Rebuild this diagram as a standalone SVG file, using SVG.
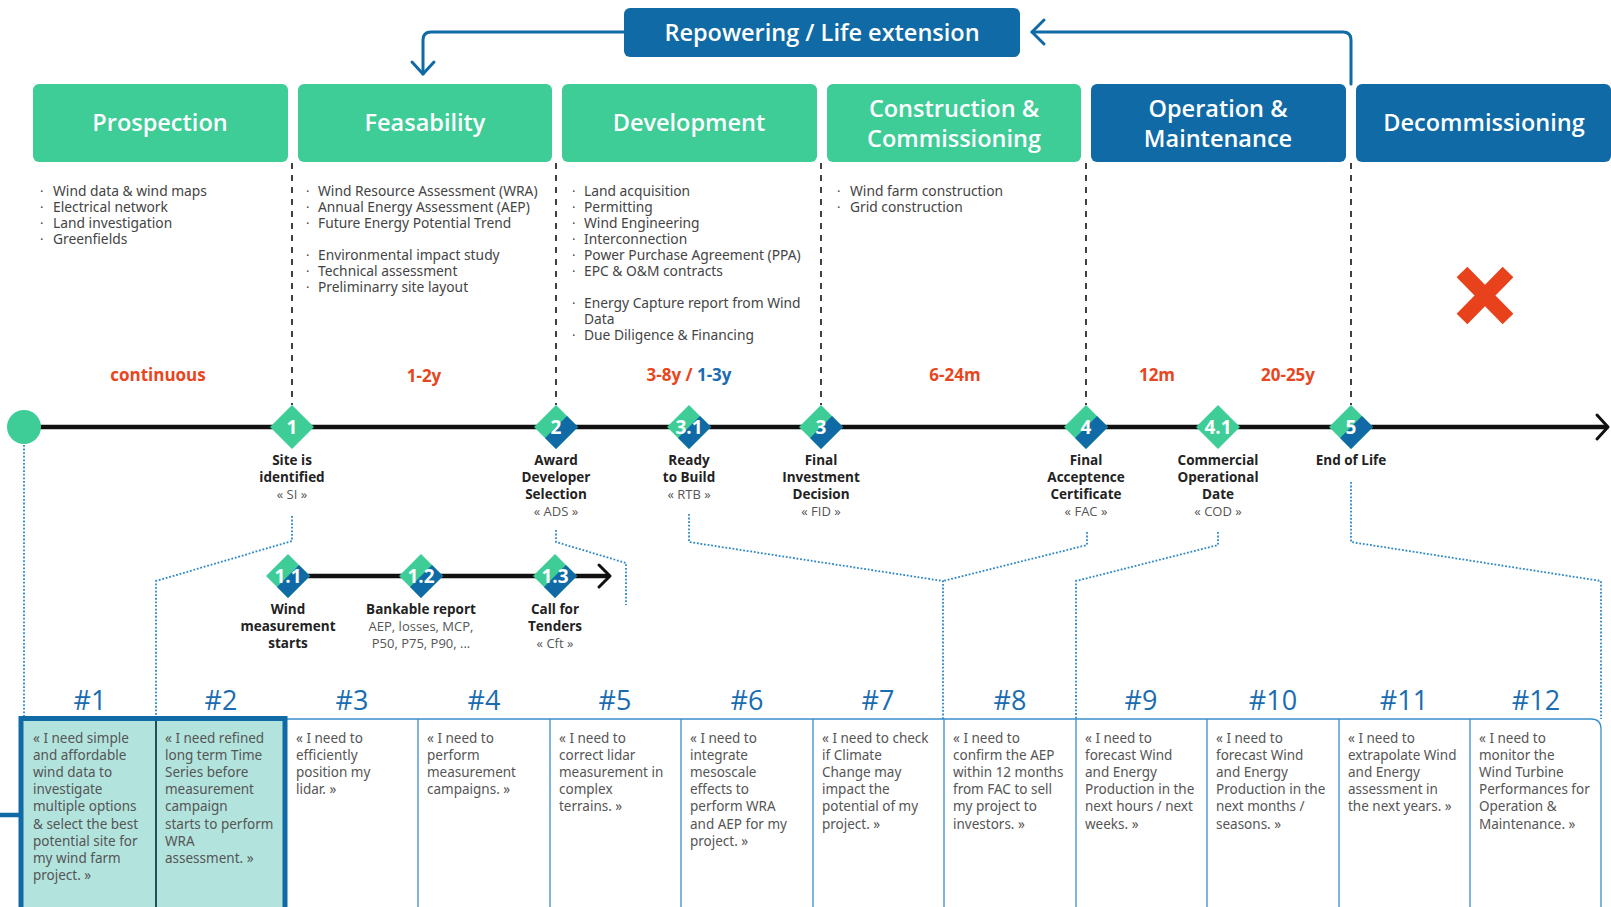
<svg xmlns="http://www.w3.org/2000/svg" xmlns:xlink="http://www.w3.org/1999/xlink" width="1611" height="907" viewBox="0 0 1611 907">
<defs>
<style>
.ph{fill:#3ECC97}
.phb{fill:#0F6AA6}
.pt{font-family:"Open Sans","Noto Sans",sans-serif;font-weight:600;font-size:23.5px;fill:#fff;text-anchor:middle}
.li{font-family:"Noto Sans","Open Sans",sans-serif;font-size:13.8px;fill:#444}
.bu{font-family:"Noto Sans",sans-serif;font-size:13px;fill:#444}
.du{font-family:"Open Sans","Noto Sans",sans-serif;font-weight:700;font-size:17px;fill:#E8461E;text-anchor:middle}
.dn{font-family:"Open Sans","Noto Sans",sans-serif;font-weight:700;font-size:19px;fill:#fff;text-anchor:middle}
.lb{font-family:"Open Sans","Noto Sans",sans-serif;font-weight:700;font-size:13.5px;fill:#222;text-anchor:middle}
.lr{font-family:"Open Sans","Noto Sans",sans-serif;font-size:13px;fill:#555;text-anchor:middle}
.hd{font-family:"Open Sans","Noto Sans",sans-serif;font-size:27px;fill:#1A6CB0;text-anchor:middle}
.ct{font-family:"Noto Sans","Open Sans",sans-serif;font-size:13.5px;fill:#555}
.dash{stroke:#111;stroke-width:1.6;stroke-dasharray:6 6;fill:none}
.dot{stroke:#2B87C8;stroke-width:1.8;stroke-dasharray:1.8 1.8;fill:none}
.blu{stroke:#0F6AA6;stroke-width:3;fill:none;stroke-linecap:round;stroke-linejoin:round}
.tl{stroke:#111;stroke-width:4.5;fill:none}
.chev{stroke:#111;stroke-width:3;fill:none;stroke-linecap:round;stroke-linejoin:round}
.cell{stroke:#3A8FCB;stroke-width:1.3;fill:none}
</style>
<g id="dsplit"><polygon points="0,-22 22,0 0,22 -22,0" fill="#3ECC97"/><polygon points="11,-11 22,0 0,22 -11,11" fill="#0F6AA6"/></g>
<g id="dgreen"><polygon points="0,-22 22,0 0,22 -22,0" fill="#3ECC97"/></g>
</defs>
<rect width="1611" height="907" fill="#fff"/>

<!-- connectors -->
<g id="connectors">
<path class="blu" d="M624,32 H431 Q423,32 423,40 V74"/>
<polyline class="blu" points="412,62 423,74 434,62"/>
<path class="blu" d="M1351,84 V40 Q1351,32 1343,32 H1032"/>
<polyline class="blu" points="1044,20 1032,32 1044,44"/>
<line class="dash" x1="292" y1="163" x2="292" y2="405"/>
<line class="dash" x1="556" y1="163" x2="556" y2="405"/>
<line class="dash" x1="821" y1="163" x2="821" y2="405"/>
<line class="dash" x1="1086" y1="163" x2="1086" y2="405"/>
<line class="dash" x1="1351" y1="163" x2="1351" y2="405"/>
<line class="tl" x1="24" y1="427" x2="1607" y2="427"/>
<polyline class="chev" points="1597,415 1608,427 1597,439"/>
<line class="tl" x1="288" y1="576" x2="609" y2="576"/>
<polyline class="chev" points="599,565 610,576 599,587"/>
<path class="dot" d="M24,445 V719"/>
<path class="dot" d="M292,516 V541 L156,581 V719"/>
<path class="dot" d="M556,530 V542 L626,563 V605"/>
<path class="dot" d="M689,514 V542 L943,581 V719"/>
<path class="dot" d="M1087,532 V545 L943,581"/>
<path class="dot" d="M1218,532 V545 L1076,581 V719"/>
<path class="dot" d="M1351,482 V542 L1601,581 V719"/>
</g>

<!-- repowering -->
<g id="repowering">
<rect x="624" y="8" width="396" height="49" rx="6" fill="#0F6AA6"/>
<text class="pt" x="822" y="40.5" font-size="23px">Repowering / Life extension</text>
</g>

<!-- phases -->
<g id="phase-prospection"><rect class="ph" x="33" y="84" width="255" height="78" rx="6"/><text class="pt" x="160" y="131">Prospection</text>
<text class="bu" x="40" y="196">·</text><text class="li" x="53" y="196">Wind data &amp; wind maps</text>
<text class="bu" x="40" y="212">·</text><text class="li" x="53" y="212">Electrical network</text>
<text class="bu" x="40" y="228">·</text><text class="li" x="53" y="228">Land investigation</text>
<text class="bu" x="40" y="244">·</text><text class="li" x="53" y="244">Greenfields</text>
</g>
<g id="phase-feasability"><rect class="ph" x="298" y="84" width="254" height="78" rx="6"/><text class="pt" x="425" y="131">Feasability</text>
<text class="bu" x="306" y="196">·</text><text class="li" x="318" y="196">Wind Resource Assessment (WRA)</text>
<text class="bu" x="306" y="212">·</text><text class="li" x="318" y="212">Annual Energy Assessment (AEP)</text>
<text class="bu" x="306" y="228">·</text><text class="li" x="318" y="228">Future Energy Potential Trend</text>
<text class="bu" x="306" y="260">·</text><text class="li" x="318" y="260">Environmental impact study</text>
<text class="bu" x="306" y="276">·</text><text class="li" x="318" y="276">Technical assessment</text>
<text class="bu" x="306" y="292">·</text><text class="li" x="318" y="292">Preliminarry site layout</text>
</g>
<g id="phase-development"><rect class="ph" x="562" y="84" width="255" height="78" rx="6"/><text class="pt" x="689" y="131">Development</text>
<text class="bu" x="572" y="196">·</text><text class="li" x="584" y="196">Land acquisition</text>
<text class="bu" x="572" y="212">·</text><text class="li" x="584" y="212">Permitting</text>
<text class="bu" x="572" y="228">·</text><text class="li" x="584" y="228">Wind Engineering</text>
<text class="bu" x="572" y="244">·</text><text class="li" x="584" y="244">Interconnection</text>
<text class="bu" x="572" y="260">·</text><text class="li" x="584" y="260">Power Purchase Agreement (PPA)</text>
<text class="bu" x="572" y="276">·</text><text class="li" x="584" y="276">EPC &amp; O&amp;M contracts</text>
<text class="bu" x="572" y="308">·</text><text class="li" x="584" y="308">Energy Capture report from Wind</text>
<text class="li" x="584" y="324">Data</text>
<text class="bu" x="572" y="340">·</text><text class="li" x="584" y="340">Due Diligence &amp; Financing</text>
</g>
<g id="phase-construction"><rect class="ph" x="827" y="84" width="254" height="78" rx="6"/><text class="pt" x="954" y="117">Construction &amp;</text><text class="pt" x="954" y="147">Commissioning</text>
<text class="bu" x="837" y="196">·</text><text class="li" x="850" y="196">Wind farm construction</text>
<text class="bu" x="837" y="212">·</text><text class="li" x="850" y="212">Grid construction</text>
</g>
<g id="phase-operation"><rect class="phb" x="1091" y="84" width="255" height="78" rx="6"/><text class="pt" x="1218" y="117">Operation &amp;</text><text class="pt" x="1218" y="147">Maintenance</text></g>
<g id="phase-decommissioning"><rect class="phb" x="1356" y="84" width="255" height="78" rx="6"/><text class="pt" x="1484" y="131">Decommissioning</text>
<path d="M1462,272 L1508,319 M1508,272 L1462,319" stroke="#E8421C" stroke-width="15" stroke-linecap="butt"/>
</g>

<!-- durations -->
<g id="durations">
<text class="du" x="158" y="381">continuous</text>
<text class="du" x="424" y="382">1-2y</text>
<text class="du" x="689" y="381">3-8y / <tspan fill="#1A6CB0">1-3y</tspan></text>
<text class="du" x="955" y="381">6-24m</text>
<text class="du" x="1157" y="381">12m</text>
<text class="du" x="1288" y="381">20-25y</text>
</g>

<!-- milestones -->
<g id="start"><circle cx="24" cy="427" r="17" fill="#3ECC97"/></g>
<g id="m1"><use href="#dgreen" x="292" y="427"/><text class="dn" x="292" y="434">1</text>
<text class="lb" x="292" y="465">Site is</text><text class="lb" x="292" y="482">identified</text><text class="lr" x="292" y="499">« SI »</text></g>
<g id="m2"><use href="#dsplit" x="556" y="427"/><text class="dn" x="556" y="434">2</text>
<text class="lb" x="556" y="465">Award</text><text class="lb" x="556" y="482">Developer</text><text class="lb" x="556" y="499">Selection</text><text class="lr" x="556" y="516">« ADS »</text></g>
<g id="m31"><use href="#dsplit" x="689" y="427"/><text class="dn" x="689" y="434">3.1</text>
<text class="lb" x="689" y="465">Ready</text><text class="lb" x="689" y="482">to Build</text><text class="lr" x="689" y="499">« RTB »</text></g>
<g id="m3"><use href="#dsplit" x="821" y="427"/><text class="dn" x="821" y="434">3</text>
<text class="lb" x="821" y="465">Final</text><text class="lb" x="821" y="482">Investment</text><text class="lb" x="821" y="499">Decision</text><text class="lr" x="821" y="516">« FID »</text></g>
<g id="m4"><use href="#dsplit" x="1086" y="427"/><text class="dn" x="1086" y="434">4</text>
<text class="lb" x="1086" y="465">Final</text><text class="lb" x="1086" y="482">Acceptence</text><text class="lb" x="1086" y="499">Certificate</text><text class="lr" x="1086" y="516">« FAC »</text></g>
<g id="m41"><use href="#dgreen" x="1218" y="427"/><text class="dn" x="1218" y="434">4.1</text>
<text class="lb" x="1218" y="465">Commercial</text><text class="lb" x="1218" y="482">Operational</text><text class="lb" x="1218" y="499">Date</text><text class="lr" x="1218" y="516">« COD »</text></g>
<g id="m5"><use href="#dsplit" x="1351" y="427"/><text class="dn" x="1351" y="434">5</text>
<text class="lb" x="1351" y="465">End of Life</text></g>
<g id="m11"><use href="#dsplit" x="288" y="576"/><text class="dn" x="288" y="583">1.1</text>
<text class="lb" x="288" y="614">Wind</text><text class="lb" x="288" y="631">measurement</text><text class="lb" x="288" y="648">starts</text></g>
<g id="m12"><use href="#dsplit" x="421" y="576"/><text class="dn" x="421" y="583">1.2</text>
<text class="lb" x="421" y="614">Bankable report</text><text class="lr" x="421" y="631">AEP, losses, MCP,</text><text class="lr" x="421" y="648">P50, P75, P90, ...</text></g>
<g id="m13"><use href="#dsplit" x="555" y="576"/><text class="dn" x="555" y="583">1.3</text>
<text class="lb" x="555" y="614">Call for</text><text class="lb" x="555" y="631">Tenders</text><text class="lr" x="555" y="648">« Cft »</text></g>

<!-- table -->
<g id="table">
<path class="cell" d="M24,719 H1591 Q1601,719 1601,729 V907"/>
<path class="cell" d="M418,719V907M550,719V907M681,719V907M813,719V907M944,719V907M1076,719V907M1207,719V907M1339,719V907M1470,719V907"/>
<rect x="21" y="718.5" width="264" height="200" fill="#B2E3DD" stroke="#0F6AA6" stroke-width="5"/>
<line x1="156" y1="721" x2="156" y2="907" stroke="#1D4F5E" stroke-width="2"/>
<line x1="0" y1="815" x2="19" y2="815" stroke="#0F6AA6" stroke-width="4.5"/>
<text class="hd" x="90" y="710">#1</text><text class="hd" x="221" y="710">#2</text><text class="hd" x="352" y="710">#3</text><text class="hd" x="484" y="710">#4</text><text class="hd" x="615" y="710">#5</text><text class="hd" x="747" y="710">#6</text><text class="hd" x="878" y="710">#7</text><text class="hd" x="1010" y="710">#8</text><text class="hd" x="1141" y="710">#9</text><text class="hd" x="1273" y="710">#10</text><text class="hd" x="1404" y="710">#11</text><text class="hd" x="1536" y="710">#12</text>
</g>
<g id="need1"><text class="ct" x="33" y="743"><tspan x="33">« I need simple</tspan><tspan x="33" dy="17.1">and affordable</tspan><tspan x="33" dy="17.1">wind data to</tspan><tspan x="33" dy="17.1">investigate</tspan><tspan x="33" dy="17.1">multiple options</tspan><tspan x="33" dy="17.1">&amp; select the best</tspan><tspan x="33" dy="17.1">potential site for</tspan><tspan x="33" dy="17.1">my wind farm</tspan><tspan x="33" dy="17.1">project. »</tspan></text></g>
<g id="need2"><text class="ct" x="165" y="743"><tspan x="165">« I need refined</tspan><tspan x="165" dy="17.1">long term Time</tspan><tspan x="165" dy="17.1">Series before</tspan><tspan x="165" dy="17.1">measurement</tspan><tspan x="165" dy="17.1">campaign</tspan><tspan x="165" dy="17.1">starts to perform</tspan><tspan x="165" dy="17.1">WRA</tspan><tspan x="165" dy="17.1">assessment. »</tspan></text></g>
<g id="need3"><text class="ct" x="296" y="743"><tspan x="296">« I need to</tspan><tspan x="296" dy="17.1">efficiently</tspan><tspan x="296" dy="17.1">position my</tspan><tspan x="296" dy="17.1">lidar. »</tspan></text></g>
<g id="need4"><text class="ct" x="427" y="743"><tspan x="427">« I need to</tspan><tspan x="427" dy="17.1">perform</tspan><tspan x="427" dy="17.1">measurement</tspan><tspan x="427" dy="17.1">campaigns. »</tspan></text></g>
<g id="need5"><text class="ct" x="559" y="743"><tspan x="559">« I need to</tspan><tspan x="559" dy="17.1">correct lidar</tspan><tspan x="559" dy="17.1">measurement in</tspan><tspan x="559" dy="17.1">complex</tspan><tspan x="559" dy="17.1">terrains. »</tspan></text></g>
<g id="need6"><text class="ct" x="690" y="743"><tspan x="690">« I need to</tspan><tspan x="690" dy="17.1">integrate</tspan><tspan x="690" dy="17.1">mesoscale</tspan><tspan x="690" dy="17.1">effects to</tspan><tspan x="690" dy="17.1">perform WRA</tspan><tspan x="690" dy="17.1">and AEP for my</tspan><tspan x="690" dy="17.1">project. »</tspan></text></g>
<g id="need7"><text class="ct" x="822" y="743"><tspan x="822">« I need to check</tspan><tspan x="822" dy="17.1">if Climate</tspan><tspan x="822" dy="17.1">Change may</tspan><tspan x="822" dy="17.1">impact the</tspan><tspan x="822" dy="17.1">potential of my</tspan><tspan x="822" dy="17.1">project. »</tspan></text></g>
<g id="need8"><text class="ct" x="953" y="743"><tspan x="953">« I need to</tspan><tspan x="953" dy="17.1">confirm the AEP</tspan><tspan x="953" dy="17.1">within 12 months</tspan><tspan x="953" dy="17.1">from FAC to sell</tspan><tspan x="953" dy="17.1">my project to</tspan><tspan x="953" dy="17.1">investors. »</tspan></text></g>
<g id="need9"><text class="ct" x="1085" y="743"><tspan x="1085">« I need to</tspan><tspan x="1085" dy="17.1">forecast Wind</tspan><tspan x="1085" dy="17.1">and Energy</tspan><tspan x="1085" dy="17.1">Production in the</tspan><tspan x="1085" dy="17.1">next hours / next</tspan><tspan x="1085" dy="17.1">weeks. »</tspan></text></g>
<g id="need10"><text class="ct" x="1216" y="743"><tspan x="1216">« I need to</tspan><tspan x="1216" dy="17.1">forecast Wind</tspan><tspan x="1216" dy="17.1">and Energy</tspan><tspan x="1216" dy="17.1">Production in the</tspan><tspan x="1216" dy="17.1">next months /</tspan><tspan x="1216" dy="17.1">seasons. »</tspan></text></g>
<g id="need11"><text class="ct" x="1348" y="743"><tspan x="1348">« I need to</tspan><tspan x="1348" dy="17.1">extrapolate Wind</tspan><tspan x="1348" dy="17.1">and Energy</tspan><tspan x="1348" dy="17.1">assessment in</tspan><tspan x="1348" dy="17.1">the next years. »</tspan></text></g>
<g id="need12"><text class="ct" x="1479" y="743"><tspan x="1479">« I need to</tspan><tspan x="1479" dy="17.1">monitor the</tspan><tspan x="1479" dy="17.1">Wind Turbine</tspan><tspan x="1479" dy="17.1">Performances for</tspan><tspan x="1479" dy="17.1">Operation &amp;</tspan><tspan x="1479" dy="17.1">Maintenance. »</tspan></text></g>
</svg>
